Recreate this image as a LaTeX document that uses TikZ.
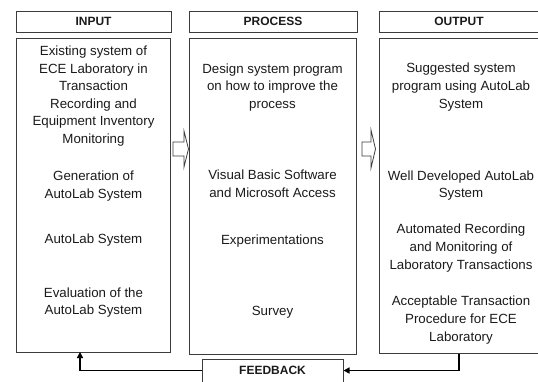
\documentclass[tikz,border=0pt]{standalone}
\usepackage{fontspec}
\setmainfont{Liberation Sans}
\usetikzlibrary{arrows.meta}
\definecolor{edge}{HTML}{3C3C3C}
\definecolor{ink}{HTML}{1A1A1A}
\begin{document}
\begin{tikzpicture}[x=1pt,y=-1pt,
  head/.style={draw=edge,line width=1pt,minimum height=21pt,inner sep=0pt,text=ink,font=\bfseries\fontsize{12}{14}\selectfont},
  panel/.style={draw=edge,line width=1pt,inner sep=0pt},
  item/.style={align=center,inner sep=0pt,text=ink,font=\fontsize{13.3}{17.6}\selectfont},
  fb/.style={line width=1.8pt,-{Triangle[length=6pt,width=6pt]}},
  hollow/.style={draw=edge,fill=white,line width=0.8pt,line join=miter}]
\useasboundingbox (0,0) rectangle (538,381);
\node[head,minimum width=155pt] (hin) at (93.5,21.5) {INPUT};
\node[head,minimum width=168pt] (hpr) at (273,21.5) {PROCESS};
\node[head,minimum width=160pt] (hout) at (459,21.5) {OUTPUT};
\node[panel,minimum width=154pt,minimum height=314pt] (inbox) at (93,195) {};
\node[panel,minimum width=167pt,minimum height=316pt] (prbox) at (272.5,196) {};
\node[panel,minimum width=160pt,minimum height=315pt] (outbox) at (459,195.5) {};
\node[item] (in1) at (93.5,96) {Existing system of\\ECE Laboratory in\\Transaction\\Recording and\\Equipment Inventory\\Monitoring};
\node[item] (in2) at (93.5,186) {Generation of\\AutoLab System};
\node[item] (in3) at (93.5,240) {AutoLab System};
\node[item] (in4) at (93.5,302.5) {Evaluation of the\\AutoLab System};
\node[item] (pr1) at (272.5,87.5) {Design system program\\on how to improve the\\process};
\node[item] (pr2) at (272.5,184) {Visual Basic Software\\and Microsoft Access};
\node[item] (pr3) at (272.5,241) {Experimentations};
\node[item] (pr4) at (272.5,312) {Survey};
\node[item] (out1) at (461,87) {Suggested system\\program using AutoLab\\System};
\node[item] (out2) at (461,185.5) {Well Developed AutoLab\\System};
\node[item] (out3) at (461,248) {Automated Recording\\and Monitoring of\\Laboratory Transactions};
\node[item] (out4) at (461,320) {Acceptable Transaction\\Procedure for ECE\\Laboratory};
\draw[hollow] (173,142) -- (184,142) -- (184,131) -- (188.5,149) -- (184,167) -- (184,156) -- (173,156) -- cycle;
\draw[hollow] (362,142) -- (371,142) -- (371,130) -- (375.5,149) -- (371,168) -- (371,156) -- (362,156) -- cycle;
\node[head,minimum width=141pt,minimum height=23pt] (fbbox) at (272.5,370.5) {FEEDBACK};
\coordinate (inret) at (80,352);
\draw[fb] (outbox.south) |- (fbbox.east);
\draw[fb] (fbbox.west) -| (inret);
\end{tikzpicture}
\end{document}
